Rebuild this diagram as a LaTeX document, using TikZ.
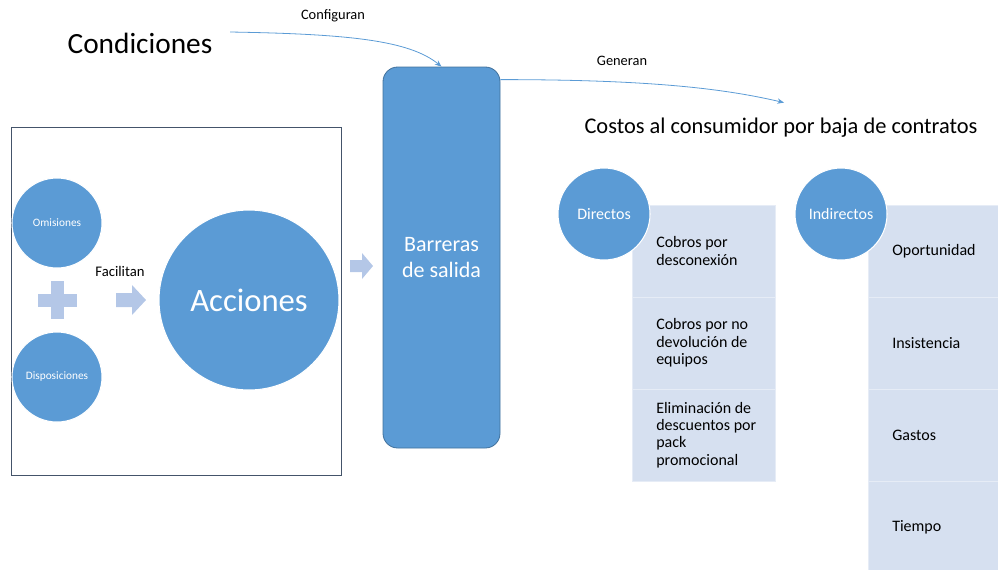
\documentclass[tikz,border=0pt]{standalone}
\usepackage{fontspec}
\setmainfont{Carlito}
\usetikzlibrary{positioning,arrows.meta}
\definecolor{circblue}{HTML}{5B9BD5}
\definecolor{edgeblue}{HTML}{41719C}
\definecolor{cellblue}{HTML}{D6E0F0}
\definecolor{plusblue}{HTML}{B4C7E7}
\definecolor{framegray}{HTML}{44546A}
\tikzset{
  circ/.style={circle, fill=circblue, draw=white, line width=0.8pt, text=white, inner sep=0pt},
  cell/.style={rectangle, fill=cellblue, draw=white!40!cellblue, line width=0.6pt,
    minimum width=107.25pt, minimum height=69pt, inner sep=0pt, outer sep=0pt},
  celltext/.style={anchor=west, align=left, inner sep=0pt, font=\fontsize{12}{13}\selectfont},
  conn/.style={draw=circblue, line width=0.6pt, -{Stealth[length=5pt,width=4pt]}},
  small/.style={font=\fontsize{10.8}{12}\selectfont}
}
\begin{document}
\begin{tikzpicture}[x=0.75pt, y=-0.75pt]
  \useasboundingbox (0,0) rectangle (998,569);
  \draw[framegray, line width=0.6pt] (11,127) rectangle (341,475);
  \node[circ, minimum size=67.5pt, font=\fontsize{8.5}{10}\selectfont] (omis) at (57,223) {Omisiones};
  \node[circ, minimum size=67.5pt, font=\fontsize{8.5}{10}\selectfont] (disp) at (57,377) {Disposiciones};
  \fill[plusblue] (38,293.5) rectangle (77,306.5);
  \fill[plusblue] (51,281) rectangle (64,319);
  \node[font=\fontsize{11}{13}\selectfont] (facil) at (120,271) {Facilitan};
  \fill[plusblue] (116,293) -- (132,293) -- (132,285) -- (146,300) -- (132,315) -- (132,307) -- (116,307) -- cycle;
  \node[circ, minimum size=135pt, font=\fontsize{24.5}{28}\selectfont] (acc) at (249,300) {Acciones};
  \fill[plusblue] (350,260) -- (362,260) -- (362,253) -- (373,266) -- (362,279) -- (362,272) -- (350,272) -- cycle;
  \node[rectangle, rounded corners=11pt, fill=circblue, draw=edgeblue, line width=0.6pt,
    minimum width=87.75pt, minimum height=285.75pt, text=white, align=center,
    font=\fontsize{16.5}{19.5}\selectfont] (barr) at (441.5,257.5) {Barreras\\de salida};
  \node[font=\fontsize{22}{26}\selectfont] (cond) at (140,43) {Condiciones};
  \node[small] (config) at (333,16) {Configuran};
  \draw[conn] ([shift={(13,-11)}]cond.east) .. controls +(120,2) and +(-32,-26) .. (barr.north);
  \node[font=\fontsize{16.8}{20}\selectfont] (costos) at (781,128) {Costos al consumidor por baja de contratos};
  \node[small] (gen) at (622,61) {Generan};
  \draw[conn] ([shift={(0,13)}]barr.north east) .. controls +(150,0) and +(-60,-14) .. ([shift={(3,-11)}]costos.north);
  % directos
  \node[cell, anchor=north west] (d1) at (632,205) {};
  \node[cell, below=0pt of d1] (d2) {};
  \node[cell, below=0pt of d2] (d3) {};
  \node[celltext] (d1t) at ([xshift=18pt]d1.west) {Cobros por\\desconexión};
  \node[celltext] (d2t) at ([xshift=18pt]d2.west) {Cobros por no\\devolución de\\equipos};
  \node[celltext] (d3t) at ([xshift=18pt]d3.west) {Eliminación de\\descuentos por\\pack\\promocional};
  \node[circ, minimum size=69pt, font=\fontsize{12}{14}\selectfont] (dir) at (604,214) {Directos};
  % indirectos
  \node[cell, anchor=north west] (i1) at (868,205) {};
  \node[cell, below=0pt of i1] (i2) {};
  \node[cell, below=0pt of i2] (i3) {};
  \node[cell, below=0pt of i3] (i4) {};
  \node[celltext] (i1t) at ([xshift=18pt]i1.west) {Oportunidad};
  \node[celltext] (i2t) at ([xshift=18pt]i2.west) {Insistencia};
  \node[celltext] (i3t) at ([xshift=18pt]i3.west) {Gastos};
  \node[celltext] (i4t) at ([xshift=18pt]i4.west) {Tiempo};
  \node[circ, minimum size=69pt, font=\fontsize{12}{14}\selectfont] (indir) at (841,214) {Indirectos};
\end{tikzpicture}
\end{document}
